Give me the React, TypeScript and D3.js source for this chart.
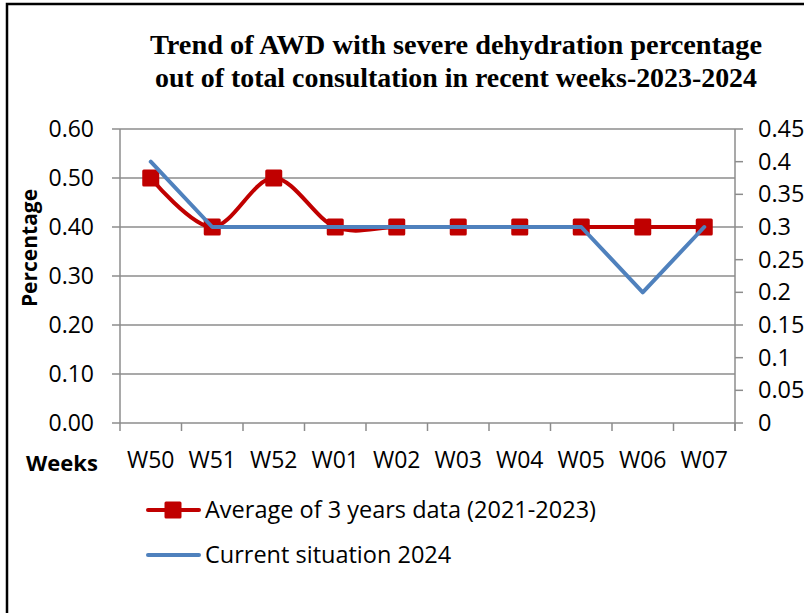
import React, { useEffect, useRef } from "react";
import * as d3 from "d3";

const weeks = ["W50", "W51", "W52", "W01", "W02", "W03", "W04", "W05", "W06", "W07"];
const average3Years = [0.5, 0.4, 0.5, 0.4, 0.4, 0.4, 0.4, 0.4, 0.4, 0.4];
const current2024 = [0.4, 0.3, 0.3, 0.3, 0.3, 0.3, 0.3, 0.3, 0.2, 0.3];
const leftTicks = [0, 0.1, 0.2, 0.3, 0.4, 0.5, 0.6];
const rightTicks = [0, 0.05, 0.1, 0.15, 0.2, 0.25, 0.3, 0.35, 0.4, 0.45];
const titleLines = [
  "Trend of AWD with severe dehydration percentage",
  "out of total consultation in recent weeks-2023-2024",
];
const legendLabels = ["Average of 3 years data (2021-2023)", "Current situation 2024"];

const RED = "#C00000";
const BLUE = "#4F81BD";
const GRID = "#8C8C8C";
const FONT = "'Open Sans', sans-serif";

const WIDTH = 804;
const HEIGHT = 613;

const TrendChart: React.FC = () => {
  const svgRef = useRef<SVGSVGElement>(null);

  useEffect(() => {
    if (!svgRef.current) return;
    document.body.style.margin = "0";

    const svg = d3.select(svgRef.current);
    svg.selectAll("*").remove();

    // plot box
    const left = 120;
    const right = 735;
    const top = 129;
    const bottom = 423;

    const x = d3.scaleBand<string>().domain(weeks).range([left, right]);
    const yLeft = d3.scaleLinear().domain([0, 0.6]).range([bottom, top]);
    const yRight = d3.scaleLinear().domain([0, 0.45]).range([bottom, top]);
    const cx = (w: string) => (x(w) || 0) + x.bandwidth() / 2;

    // frame around the figure
    svg
      .append("rect")
      .attr("x", 7)
      .attr("y", 4)
      .attr("width", WIDTH + 20)
      .attr("height", HEIGHT + 20)
      .attr("fill", "none")
      .attr("stroke", "#000")
      .attr("stroke-width", 2.5);

    // title
    svg
      .append("g")
      .selectAll("text")
      .data(titleLines)
      .join("text")
      .attr("x", 456)
      .attr("y", (_, i) => 54 + i * 33)
      .attr("text-anchor", "middle")
      .attr("font-family", "'Liberation Serif', 'Times New Roman', serif")
      .attr("font-weight", "bold")
      .attr("font-size", 28)
      .attr("textLength", (_, i) => (i === 0 ? 612 : 602))
      .attr("lengthAdjust", "spacingAndGlyphs")
      .attr("fill", "#000")
      .text((d) => d);

    // horizontal gridlines (left axis)
    svg
      .append("g")
      .selectAll("line")
      .data(leftTicks)
      .join("line")
      .attr("x1", left - 8)
      .attr("x2", right)
      .attr("y1", (d) => yLeft(d))
      .attr("y2", (d) => yLeft(d))
      .attr("stroke", GRID)
      .attr("stroke-width", 1.5);

    // left axis line + labels
    svg
      .append("line")
      .attr("x1", left)
      .attr("x2", left)
      .attr("y1", top)
      .attr("y2", bottom)
      .attr("stroke", GRID)
      .attr("stroke-width", 1.5);

    svg
      .append("g")
      .selectAll("text")
      .data(leftTicks)
      .join("text")
      .attr("x", 94)
      .attr("y", (d) => yLeft(d) + 8)
      .attr("text-anchor", "end")
      .attr("font-family", FONT)
      .attr("font-size", 23)
      .attr("fill", "#000")
      .text((d) => d3.format(".2f")(d));

    // right axis
    svg
      .append("line")
      .attr("x1", right)
      .attr("x2", right)
      .attr("y1", top)
      .attr("y2", bottom + 8)
      .attr("stroke", GRID)
      .attr("stroke-width", 1.5);

    svg
      .append("g")
      .selectAll("line")
      .data(rightTicks)
      .join("line")
      .attr("x1", right)
      .attr("x2", right + 8)
      .attr("y1", (d) => yRight(d))
      .attr("y2", (d) => yRight(d))
      .attr("stroke", GRID)
      .attr("stroke-width", 1.5);

    svg
      .append("g")
      .selectAll("text")
      .data(rightTicks)
      .join("text")
      .attr("x", 758)
      .attr("y", (d) => yRight(d) + 8)
      .attr("font-family", FONT)
      .attr("font-size", 23.5)
      .attr("fill", "#000")
      .text((d) => String(d));

    // x axis ticks (between categories)
    const boundaries = weeks.map((w) => x(w) || 0).concat([right]);
    svg
      .append("g")
      .selectAll("line")
      .data(boundaries)
      .join("line")
      .attr("x1", (d) => d)
      .attr("x2", (d) => d)
      .attr("y1", bottom)
      .attr("y2", bottom + 8)
      .attr("stroke", GRID)
      .attr("stroke-width", 1.5);

    svg
      .append("g")
      .selectAll("text")
      .data(weeks)
      .join("text")
      .attr("x", (d) => cx(d))
      .attr("y", 468)
      .attr("text-anchor", "middle")
      .attr("font-family", FONT)
      .attr("font-size", 23)
      .attr("fill", "#000")
      .text((d) => d);

    // axis titles
    svg
      .append("text")
      .attr("transform", "translate(37, 248) rotate(-90)")
      .attr("text-anchor", "middle")
      .attr("font-family", FONT)
      .attr("font-weight", "bold")
      .attr("font-size", 21)
      .attr("fill", "#000")
      .text("Percentage");

    svg
      .append("text")
      .attr("x", 26)
      .attr("y", 471)
      .attr("font-family", FONT)
      .attr("font-weight", "bold")
      .attr("font-size", 22)
      .attr("fill", "#000")
      .text("Weeks");

    // red smoothed series on left axis
    const redLine = d3
      .line<number>()
      .x((_, i) => cx(weeks[i]))
      .y((d) => yLeft(d))
      .curve(d3.curveCardinal.tension(0));

    svg
      .append("path")
      .attr("d", redLine(average3Years) || "")
      .attr("fill", "none")
      .attr("stroke", RED)
      .attr("stroke-width", 4)
      .attr("stroke-linejoin", "round")
      .attr("stroke-linecap", "round");

    const markerSize = 17;
    svg
      .append("g")
      .selectAll("rect")
      .data(average3Years)
      .join("rect")
      .attr("x", (_, i) => cx(weeks[i]) - markerSize / 2)
      .attr("y", (d) => yLeft(d) - markerSize / 2)
      .attr("width", markerSize)
      .attr("height", markerSize)
      .attr("rx", 1.5)
      .attr("fill", RED);

    // blue straight series on right axis
    const blueLine = d3
      .line<number>()
      .x((_, i) => cx(weeks[i]))
      .y((d) => yRight(d));

    svg
      .append("path")
      .attr("d", blueLine(current2024) || "")
      .attr("fill", "none")
      .attr("stroke", BLUE)
      .attr("stroke-width", 4)
      .attr("stroke-linejoin", "round")
      .attr("stroke-linecap", "round");

    // legend
    const legend = svg.append("g");
    const legendY = [510, 555];
    legendLabels.forEach((label, i) => {
      const color = i === 0 ? RED : BLUE;
      legend
        .append("line")
        .attr("x1", 148)
        .attr("x2", 199)
        .attr("y1", legendY[i])
        .attr("y2", legendY[i])
        .attr("stroke", color)
        .attr("stroke-width", 4)
        .attr("stroke-linecap", "round");
      if (i === 0) {
        legend
          .append("rect")
          .attr("x", 173 - markerSize / 2)
          .attr("y", legendY[i] - markerSize / 2)
          .attr("width", markerSize)
          .attr("height", markerSize)
          .attr("rx", 1.5)
          .attr("fill", color);
      }
      legend
        .append("text")
        .attr("x", 205)
        .attr("y", legendY[i] + 8)
        .attr("font-family", FONT)
        .attr("font-size", 23.5)
        .attr("fill", "#000")
        .text(label);
    });
  }, []);

  return <svg ref={svgRef} width={WIDTH} height={HEIGHT} style={{ display: "block" }} />;
};

export default function App() {
  return <TrendChart />;
}
